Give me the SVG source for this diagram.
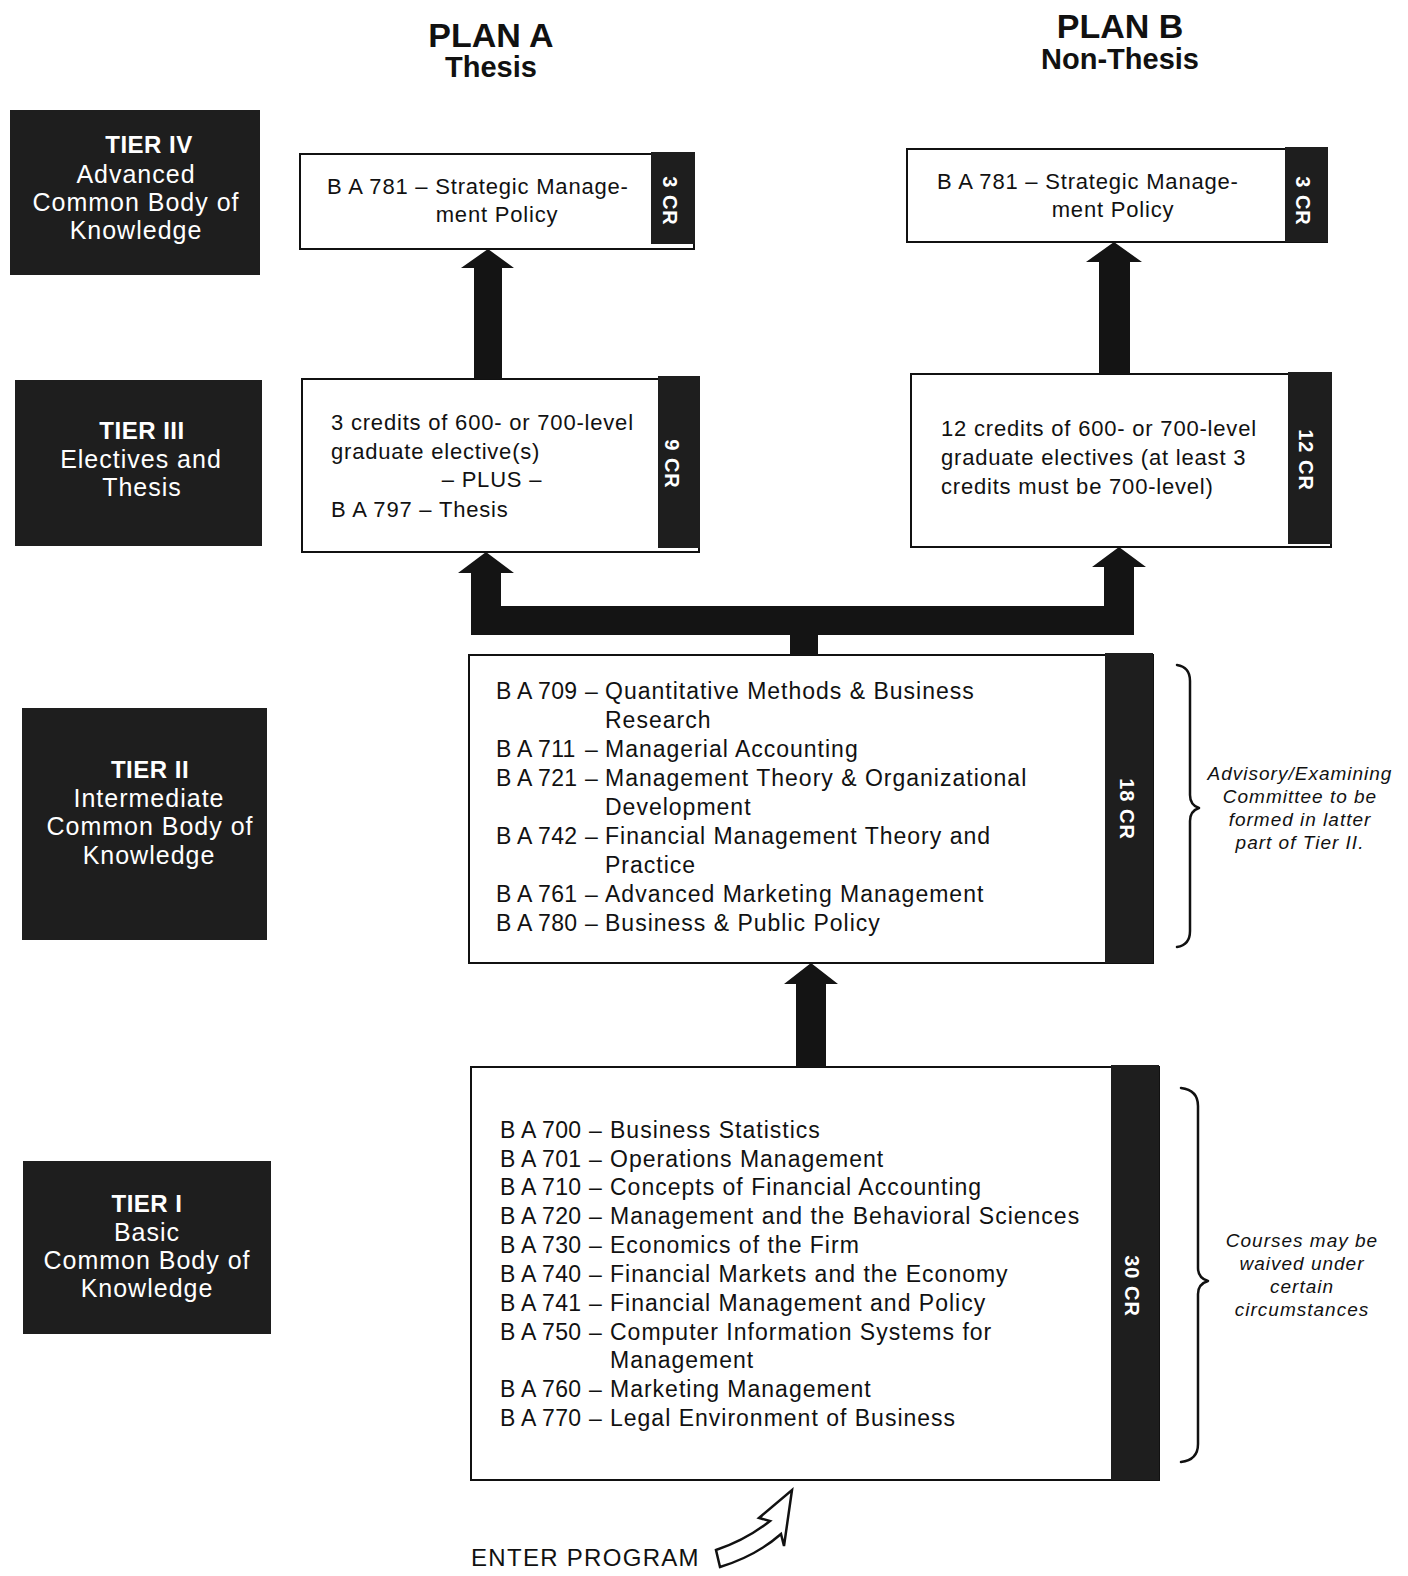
<svg xmlns="http://www.w3.org/2000/svg" width="1408" height="1576" viewBox="0 0 1408 1576">
<style>
.bg{fill:#ffffff}
.dark{fill:#1e1e1e}
.box{fill:#ffffff;stroke:#111;stroke-width:2}
.t{font-family:"Liberation Sans",Arial,Helvetica,sans-serif;fill:#111}
.title{font-family:"Liberation Sans",Arial,Helvetica,sans-serif;font-weight:bold;fill:#111;text-anchor:middle}
.tier{font-family:"Liberation Sans",Arial,Helvetica,sans-serif;fill:#fff;text-anchor:middle;font-size:25px;letter-spacing:1px}
.tierh{font-weight:bold;font-size:24px;letter-spacing:0.5px}
.body{font-size:22px;letter-spacing:0.8px}
.list{font-size:23px;letter-spacing:1px}
.code{letter-spacing:0.3px}
.cr{font-family:"Liberation Sans",Arial,Helvetica,sans-serif;font-weight:bold;fill:#fff;font-size:20px;letter-spacing:1px;text-anchor:middle;dominant-baseline:central}
.note{font-family:"Liberation Sans",Arial,Helvetica,sans-serif;font-style:italic;fill:#111;font-size:19px;letter-spacing:1px;text-anchor:middle}
.arrow{fill:#141414}
.brace{fill:none;stroke:#111;stroke-width:2.5;stroke-linejoin:round;stroke-linecap:round}
</style>
<rect class="bg" x="0" y="0" width="1408" height="1576"/>

<g id="plan-titles">
<text class="title" x="491" y="47" font-size="34">PLAN A</text>
<text class="title" x="491" y="77" font-size="29">Thesis</text>
<text class="title" x="1120" y="38" font-size="34">PLAN B</text>
<text class="title" x="1120" y="69" font-size="29">Non-Thesis</text>
</g>

<g id="tier4-label">
<rect class="dark" x="10" y="110" width="250" height="165"/>
<text class="tier tierh" x="149" y="153">TIER IV</text>
<text class="tier" x="136" y="183">Advanced</text>
<text class="tier" x="136" y="211">Common Body of</text>
<text class="tier" x="136" y="239">Knowledge</text>
</g>

<g id="tier3-label">
<rect class="dark" x="15" y="380" width="247" height="166"/>
<text class="tier tierh" x="142" y="439">TIER III</text>
<text class="tier" x="141" y="468">Electives and</text>
<text class="tier" x="142" y="496">Thesis</text>
</g>

<g id="tier2-label">
<rect class="dark" x="22" y="708" width="245" height="232"/>
<text class="tier tierh" x="150" y="778">TIER II</text>
<text class="tier" x="149" y="807">Intermediate</text>
<text class="tier" x="150" y="835">Common Body of</text>
<text class="tier" x="149" y="864">Knowledge</text>
</g>

<g id="tier1-label">
<rect class="dark" x="23" y="1161" width="248" height="173"/>
<text class="tier tierh" x="147" y="1212">TIER I</text>
<text class="tier" x="147" y="1241">Basic</text>
<text class="tier" x="147" y="1269">Common Body of</text>
<text class="tier" x="147" y="1297">Knowledge</text>
</g>

<g id="planA-tier4">
<rect class="box" x="300" y="154" width="394" height="95"/>
<rect class="dark" x="651" y="152" width="44" height="92"/>
<text class="t body" x="327" y="194">B A 781 – Strategic Manage-</text>
<text class="t body" x="497" y="222" text-anchor="middle">ment Policy</text>
<text class="cr" transform="translate(670,201) rotate(90)">3 CR</text>
</g>

<g id="planB-tier4">
<rect class="box" x="907" y="149" width="420" height="93"/>
<rect class="dark" x="1285" y="147" width="43" height="95"/>
<text class="t body" x="937" y="189">B A 781 – Strategic Manage-</text>
<text class="t body" x="1113" y="217" text-anchor="middle">ment Policy</text>
<text class="cr" transform="translate(1303,201) rotate(90)">3 CR</text>
</g>

<g id="planA-tier3">
<rect class="box" x="302" y="379" width="397" height="173"/>
<rect class="dark" x="658" y="376" width="42" height="172"/>
<text class="t body" x="331" y="430">3 credits of 600- or 700-level</text>
<text class="t body" x="331" y="459">graduate elective(s)</text>
<text class="t body" x="492" y="487" text-anchor="middle">– PLUS –</text>
<text class="t body" x="331" y="517">B A 797 – Thesis</text>
<text class="cr" transform="translate(672,464) rotate(90)">9 CR</text>
</g>

<g id="planB-tier3">
<rect class="box" x="911" y="374" width="420" height="173"/>
<rect class="dark" x="1288" y="372" width="44" height="172"/>
<text class="t body" x="941" y="436">12 credits of 600- or 700-level</text>
<text class="t body" x="941" y="465">graduate electives (at least 3</text>
<text class="t body" x="941" y="494">credits must be 700-level)</text>
<text class="cr" transform="translate(1306,460) rotate(90)">12 CR</text>
</g>

<g id="tier2-courses">
<rect class="box" x="469" y="655" width="684" height="308"/>
<rect class="dark" x="1105" y="653" width="48" height="310"/>
<g class="t list">
<text class="code" x="496" y="699">B A 709</text><text x="585" y="699">–</text><text x="605" y="699">Quantitative Methods &amp; Business</text>
<text x="605" y="728">Research</text>
<text class="code" x="496" y="757">B A 711</text><text x="585" y="757">–</text><text x="605" y="757">Managerial Accounting</text>
<text class="code" x="496" y="786">B A 721</text><text x="585" y="786">–</text><text x="605" y="786">Management Theory &amp; Organizational</text>
<text x="605" y="815">Development</text>
<text class="code" x="496" y="844">B A 742</text><text x="585" y="844">–</text><text x="605" y="844">Financial Management Theory and</text>
<text x="605" y="873">Practice</text>
<text class="code" x="496" y="902">B A 761</text><text x="585" y="902">–</text><text x="605" y="902">Advanced Marketing Management</text>
<text class="code" x="496" y="931">B A 780</text><text x="585" y="931">–</text><text x="605" y="931">Business &amp; Public Policy</text>
</g>
<text class="cr" transform="translate(1127,809) rotate(90)">18 CR</text>
</g>

<g id="tier1-courses">
<rect class="box" x="471" y="1067" width="688" height="413"/>
<rect class="dark" x="1111" y="1065" width="48" height="415"/>
<g class="t list">
<text class="code" x="500" y="1138">B A 700</text><text x="589" y="1138">–</text><text x="610" y="1138">Business Statistics</text>
<text class="code" x="500" y="1167">B A 701</text><text x="589" y="1167">–</text><text x="610" y="1167">Operations Management</text>
<text class="code" x="500" y="1195">B A 710</text><text x="589" y="1195">–</text><text x="610" y="1195">Concepts of Financial Accounting</text>
<text class="code" x="500" y="1224">B A 720</text><text x="589" y="1224">–</text><text x="610" y="1224">Management and the Behavioral Sciences</text>
<text class="code" x="500" y="1253">B A 730</text><text x="589" y="1253">–</text><text x="610" y="1253">Economics of the Firm</text>
<text class="code" x="500" y="1282">B A 740</text><text x="589" y="1282">–</text><text x="610" y="1282">Financial Markets and the Economy</text>
<text class="code" x="500" y="1311">B A 741</text><text x="589" y="1311">–</text><text x="610" y="1311">Financial Management and Policy</text>
<text class="code" x="500" y="1340">B A 750</text><text x="589" y="1340">–</text><text x="610" y="1340">Computer Information Systems for</text>
<text x="610" y="1368">Management</text>
<text class="code" x="500" y="1397">B A 760</text><text x="589" y="1397">–</text><text x="610" y="1397">Marketing Management</text>
<text class="code" x="500" y="1426">B A 770</text><text x="589" y="1426">–</text><text x="610" y="1426">Legal Environment of Business</text>
</g>
<text class="cr" transform="translate(1132,1286) rotate(90)">30 CR</text>
</g>

<g id="note-tier2">
<path class="brace" d="M1177,665 Q1190,667 1190,681 L1190,795 Q1190,805 1199,808 Q1190,811 1190,821 L1190,931 Q1190,945 1177,947"/>
<text class="note" x="1300" y="780">Advisory/Examining</text>
<text class="note" x="1300" y="803">Committee to be</text>
<text class="note" x="1300" y="826">formed in latter</text>
<text class="note" x="1300" y="849">part of Tier II.</text>
</g>

<g id="note-tier1">
<path class="brace" d="M1181,1088 Q1198,1090 1198,1106 L1198,1268 Q1198,1278 1208,1281 Q1198,1284 1198,1294 L1198,1444 Q1198,1460 1181,1462"/>
<text class="note" x="1302" y="1247">Courses may be</text>
<text class="note" x="1302" y="1270">waived under</text>
<text class="note" x="1302" y="1293">certain</text>
<text class="note" x="1302" y="1316">circumstances</text>
</g>

<g id="enter-program">
<text class="t" x="471" y="1566" font-size="24" letter-spacing="1.3">ENTER PROGRAM</text>
<path d="M716,1550 Q746,1540 770,1521 L759,1518 L792,1490 L784,1546 L781,1534 Q756,1556 720,1567 Z" fill="#fff" stroke="#111" stroke-width="2.5" stroke-linejoin="miter"/>
</g>

<g id="connectors">
<path class="arrow" d="M474,379 L474,268 L461,268 L488,249 L514,268 L502,268 L502,379 Z"/>
<path class="arrow" d="M1099,374 L1099,262 L1086,262 L1114,242 L1142,262 L1130,262 L1130,374 Z"/>
<path class="arrow" d="M471,635 L471,573 L458,573 L486,552 L514,573 L501,573 L501,606 L1104,606 L1104,567 L1092,567 L1119,547 L1146,567 L1134,567 L1134,635 L818,635 L818,655 L790,655 L790,635 Z"/>
<path class="arrow" d="M796,1067 L796,984 L784,984 L811,963 L838,984 L826,984 L826,1067 Z"/>
</g>
</svg>
